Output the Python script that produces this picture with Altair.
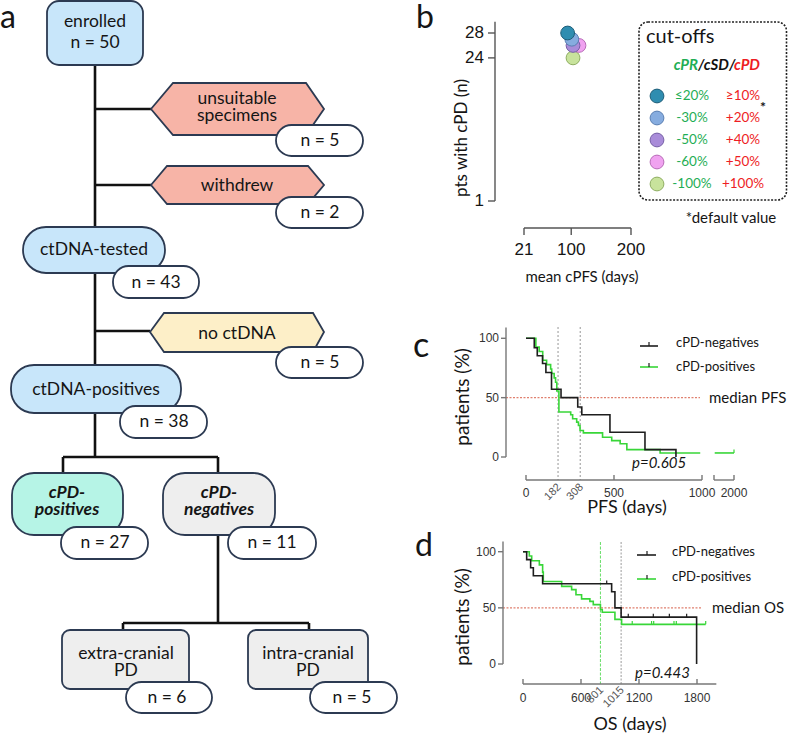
import altair as alt
import pandas as pd

LATO = "Lato"
ARIAL = "Liberation Sans"
NAVY = "#2c3a52"
KM_GREEN = "#38d638"
KM_BLACK = "#1e1e1e"
MED_RED = "#e0806f"
AXIS = "#777777"
TXT = "#151515"
PR_GREEN = "#1fae55"
PD_RED = "#ee1d24"

# ---------------- b: patients with cPD vs. mean cPFS per cut-off pair ----------------
cut_pr = ["≤20%", "-30%", "-50%", "-60%", "-100%"]
cut_pd = ["≥10%", "+20%", "+40%", "+50%", "+100%"]
mean_cpfs_days = [94, 101, 103, 113, 103]
pts_with_cpd = [28, 27, 26, 26, 24]
cut_fill = ["#2f8db0", "#86acdf", "#a98cd9", "#f0a2f0", "#c8e39c"]
cut_edge = ["#1d5d78", "#5a7fb2", "#7660a6", "#b86db8", "#8fae62"]
b_yticks = [1, 24, 28]
b_xticks = [21, 100, 200]

# ---------------- c: progression-free survival ----------------
pfs_neg_days = [0, 47, 64, 94, 113, 145, 199, 294, 317, 477, 676, 852]
pfs_neg_pct = [100, 92.1, 85.3, 78.8, 71.2, 57.1, 50.0, 42.1, 35.6, 20.8, 6.2, 0]
pfs_pos_days = [0, 56, 75, 95, 117, 140, 146, 160, 168, 175, 187, 254, 265, 288,
                298, 307, 326, 435, 487, 535, 573, 762]
pfs_pos_pct = [100, 92.6, 88.9, 81.5, 77.8, 74.1, 70.4, 66.7, 63.0, 55.6, 37.9, 35.6,
               32.2, 29.4, 26.6, 22.3, 20.3, 16.7, 13.8, 11.1, 6.2, 3.4]
pfs_pos_last_before_break = 990
pfs_pos_tail = [1890, 2000]
pfs_pos_censored = [2000]
pfs_medians = [182, 308]
pfs_xticks = [0, 500, 1000, 2000]

# ---------------- d: overall survival ----------------
os_neg_days = [0, 38, 79, 107, 203, 917, 951, 1015, 1796]
os_neg_pct = [100, 92.9, 85.7, 78.6, 71.4, 64.3, 50.0, 41.7, 0]
os_neg_censored = [866, 1089, 1348, 1514, 1693]
os_pos_days = [0, 65, 90, 169, 203, 210, 400, 503, 548, 606, 692, 727, 801, 820, 951, 1020]
os_pos_pct = [100, 96.2, 92.0, 88.3, 81.8, 73.5, 69.1, 66.2, 61.7, 58.0, 55.8, 52.9,
              48.5, 46.1, 39.7, 35.3]
os_pos_last = 1890
os_pos_censored = [1130, 1330, 1352, 1562, 1586, 1890]
os_medians = [801, 1015]
os_xticks = [0, 600, 1200, 1800]
pct_ticks = [0, 50, 100]


def level_at(day, days, pct):
    lvl = pct[0]
    for d, p in zip(days, pct):
        if d <= day:
            lvl = p
    return lvl


def km_frame(days, pct, end_day=None, grp="a"):
    rows = list(zip(days, pct))
    if end_day is not None:
        rows.append((end_day, pct[-1]))
    df = pd.DataFrame(rows, columns=["day", "pct"])
    df["grp"] = grp
    return df


def censor_frame(cens, days, pct):
    lv = [level_at(c, days, pct) for c in cens]
    return pd.DataFrame({"day": cens, "pct": lv, "top": [v + 3 for v in lv]})


def one():
    return pd.DataFrame({"k": [0]})


def text_at(s, x, y, size, font=LATO, color=TXT, weight="normal", style="normal",
            align="center", baseline="middle", angle=0):
    kw = dict(fontSize=size, font=font, color=color, fontWeight=weight,
              fontStyle=style, align=align, baseline=baseline)
    if angle:
        kw["angle"] = angle
    return alt.Chart(pd.DataFrame({"label": [s]})).mark_text(**kw).encode(
        x=alt.value(x), y=alt.value(y), text="label:N")


def seg(x1, y1, x2, y2, color, width=1.0, dash=None):
    kw = dict(color=color, strokeWidth=width)
    if dash:
        kw["strokeDash"] = dash
    return alt.Chart(one()).mark_rule(**kw).encode(
        x=alt.value(x1), y=alt.value(y1), x2=alt.value(x2), y2=alt.value(y2))


# ======================= a: flowchart =======================
fx = alt.Scale(domain=[0, 400], range=[0, 400], nice=False, zero=False)
fy = alt.Scale(domain=[0, 735], range=[0, 735], nice=False, zero=False)

BLUE, AQUA, GREY = "#c8e6fa", "#b6f4e6", "#eeeeee"
SALMON, YELLOW = "#f7b4a7", "#fdefc8"

connectors = pd.DataFrame([
    (95, 65, 95, 227), (95, 109, 151, 109), (95, 185, 151, 185),
    (95, 273, 95, 365), (95, 331, 150, 331), (95, 413, 95, 457),
    (63, 457, 218, 457), (63, 457, 63, 473), (218, 457, 218, 473),
    (218, 535, 218, 623), (123, 623, 309, 623), (123, 623, 123, 630),
    (309, 623, 309, 630)], columns=["x", "y", "x2", "y2"])

boxes = pd.DataFrame([
    ("enrolled", 47, 143, 1, 65, BLUE, "r12"),
    ("ctDNA-tested", 23, 165, 227, 273, BLUE, "stadium"),
    ("ctDNA-positives", 11, 181, 365, 413, BLUE, "stadium"),
    ("cPD-positives", 12, 123, 473, 535, AQUA, "tomb"),
    ("cPD-negatives", 163, 275, 473, 535, GREY, "tomb"),
    ("extra-cranial PD", 62, 189, 630, 689, GREY, "r8"),
    ("intra-cranial PD", 248, 368, 630, 689, GREY, "r8"),
], columns=["node", "x1", "x2", "y1", "y2", "fill", "kind"])

pills = pd.DataFrame([
    (276, 363, 125, 156), (276, 363, 197, 228), (113, 199, 266, 298),
    (276, 363, 347, 378), (120, 207, 406, 438), (61, 148, 527, 559),
    (228, 316, 527, 559), (126, 212, 682, 713), (310, 397, 682, 713)],
    columns=["x1", "x2", "y1", "y2"])

hex_rows = []
for name, pts, fill in [
    ("unsuitable", [(151, 109, 109), (173, 83, 135), (306, 83, 135), (324, 109, 109)], SALMON),
    ("withdrew", [(151, 185, 185), (167, 166, 204), (308, 166, 204), (324, 185, 185)], SALMON),
    ("no ctDNA", [(150, 332, 332), (164, 313, 352), (313, 313, 352), (324, 332, 332)], YELLOW),
]:
    for x, yt, yb in pts:
        hex_rows.append((name, x, yt, yb, fill))
hexes = pd.DataFrame(hex_rows, columns=["hex", "x", "yt", "yb", "fill"])

flow_text = pd.DataFrame([
    ("enrolled", 95, 22), ("n = 50", 95, 43),
    ("unsuitable", 237, 99), ("specimens", 237, 116), ("n = 5", 320, 141),
    ("withdrew", 237, 186), ("n = 2", 320, 213),
    ("ctDNA-tested", 94, 250), ("n = 43", 156, 283),
    ("no ctDNA", 237, 334), ("n = 5", 320, 363),
    ("ctDNA-positives", 96, 390), ("n = 38", 164, 422),
    ("n = 27", 105, 543), ("n = 11", 272, 543),
    ("extra-cranial", 126, 654), ("PD", 126, 671),
    ("intra-cranial", 308, 654), ("PD", 308, 671),
    ("n = 6", 167, 698), ("n = 5", 352, 698)], columns=["label", "x", "y"])
flow_bold = pd.DataFrame([
    ("cPD-", 67, 493), ("positives", 67, 510),
    ("cPD-", 219, 493), ("negatives", 219, 510)], columns=["label", "x", "y"])

FXe = lambda f: alt.X(f, scale=fx, axis=None)
FYe = lambda f: alt.Y(f, scale=fy, axis=None)


def box_layer(df, r):
    return alt.Chart(df).mark_rect(cornerRadius=r, stroke=NAVY, strokeWidth=1.8).encode(
        x=FXe("x1:Q"), x2="x2:Q", y=FYe("y1:Q"), y2="y2:Q",
        fill=alt.Fill("fill:N", scale=None))


flow = alt.layer(
    alt.Chart(connectors).mark_rule(color="#111111", strokeWidth=2.6).encode(
        x=FXe("x:Q"), y=FYe("y:Q"), x2="x2:Q", y2="y2:Q"),
    box_layer(boxes[boxes.kind == "r12"], 12),
    box_layer(boxes[boxes.kind == "stadium"], 23),
    box_layer(boxes[boxes.kind == "tomb"], 22),
    box_layer(boxes[boxes.kind == "r8"], 8),
    alt.Chart(hexes).mark_area(stroke=NAVY, strokeWidth=1.8, interpolate="linear").encode(
        x=FXe("x:Q"), y=alt.Y("yt:Q", scale=fy, axis=None, stack=False), y2="yb:Q",
        detail="hex:N", fill=alt.Fill("fill:N", scale=None)),
    alt.Chart(pills).mark_rect(cornerRadius=15.5, stroke=NAVY, strokeWidth=1.8, fill="white").encode(
        x=FXe("x1:Q"), x2="x2:Q", y=FYe("y1:Q"), y2="y2:Q"),
    alt.Chart(flow_text).mark_text(font=LATO, fontSize=17.5, color=TXT).encode(
        x=FXe("x:Q"), y=FYe("y:Q"), text="label:N"),
    alt.Chart(flow_bold).mark_text(font=LATO, fontSize=17.5, color=TXT, fontWeight="bold",
                                   fontStyle="italic").encode(
        x=FXe("x:Q"), y=FYe("y:Q"), text="label:N"),
)

# ======================= b =======================
bx = alt.Scale(domain=[21, 200], range=[524, 631], nice=False, zero=False)
by = alt.Scale(domain=[1, 28], range=[201, 33], nice=False, zero=False)
b_pts = pd.DataFrame({"cpfs": mean_cpfs_days, "n": pts_with_cpd, "fill": cut_fill,
                      "edge": cut_edge, "rank": list(range(len(cut_fill)))})
panel_b = alt.layer(
    alt.Chart(pd.DataFrame({"lo": [1], "hi": [29.8]})).mark_rule(color="#555555", strokeWidth=1.4).encode(
        x=alt.value(495), y=alt.Y("lo:Q", scale=by, axis=None), y2="hi:Q"),
    alt.Chart(pd.DataFrame({"n": b_yticks})).mark_rule(color="#555555", strokeWidth=1.4).encode(
        x=alt.value(488), x2=alt.value(495), y=alt.Y("n:Q", scale=by, axis=None)),
    alt.Chart(pd.DataFrame({"n": b_yticks})).mark_text(font=ARIAL, fontSize=17, align="right",
                                                       color=TXT).encode(
        x=alt.value(484), y=alt.Y("n:Q", scale=by, axis=None), text="n:Q"),
    alt.Chart(pd.DataFrame({"lo": [21], "hi": [200]})).mark_rule(color="#555555", strokeWidth=1.4).encode(
        x=alt.X("lo:Q", scale=bx, axis=None), x2="hi:Q", y=alt.value(228)),
    alt.Chart(pd.DataFrame({"d": b_xticks})).mark_rule(color="#555555", strokeWidth=1.4).encode(
        x=alt.X("d:Q", scale=bx, axis=None), y=alt.value(228), y2=alt.value(235)),
    alt.Chart(pd.DataFrame({"d": b_xticks})).mark_text(font=ARIAL, fontSize=17, color=TXT).encode(
        x=alt.X("d:Q", scale=bx, axis=None), y=alt.value(250), text="d:Q"),
    alt.Chart(b_pts).mark_circle(size=190, opacity=1, strokeWidth=1).encode(
        x=alt.X("cpfs:Q", scale=bx, axis=None), y=alt.Y("n:Q", scale=by, axis=None),
        fill=alt.Fill("fill:N", scale=None), stroke=alt.Stroke("edge:N", scale=None),
        order=alt.Order("rank:Q", sort="descending")),
)

legend_rows = pd.DataFrame({"pr": cut_pr, "pd": cut_pd, "fill": cut_fill, "edge": cut_edge,
                            "py": [96 + 22 * i for i in range(len(cut_pr))]})
b_legend = alt.layer(
    alt.Chart(one()).mark_rect(cornerRadius=9, fillOpacity=0, stroke="#222222", strokeWidth=1.6,
                               strokeDash=[2, 1.5]).encode(
        x=alt.value(639), x2=alt.value(786.5), y=alt.value(22), y2=alt.value(200)),
    alt.Chart(legend_rows).mark_circle(size=190, opacity=1, strokeWidth=1).encode(
        x=alt.value(657), y=alt.Y("py:Q", scale=None),
        fill=alt.Fill("fill:N", scale=None), stroke=alt.Stroke("edge:N", scale=None)),
    alt.Chart(legend_rows).mark_text(font=LATO, fontSize=13.5, color=PR_GREEN).encode(
        x=alt.value(692), y=alt.Y("py:Q", scale=None), text="pr:N"),
    alt.Chart(legend_rows).mark_text(font=LATO, fontSize=13.5, color=PD_RED).encode(
        x=alt.value(743), y=alt.Y("py:Q", scale=None), text="pd:N"),
)

# ======================= c =======================
cx = alt.Scale(domain=[0, 1000, 1886, 2000], range=[526, 702, 714, 734], nice=False, zero=False)
cy = alt.Scale(domain=[0, 100], range=[457, 338.3], nice=False, zero=False)
CX = lambda f: alt.X(f, scale=cx, axis=None)
CY = lambda f: alt.Y(f, scale=cy, axis=None)

pfs_pos_df = pd.concat([
    km_frame(pfs_pos_days, pfs_pos_pct, pfs_pos_last_before_break, "main"),
    km_frame(pfs_pos_tail, [pfs_pos_pct[-1]] * 2, None, "tail")])
pfs_neg_df = km_frame(pfs_neg_days, pfs_neg_pct, None, "main")
pfs_cens = censor_frame(pfs_pos_censored, pfs_pos_days, pfs_pos_pct)


def km_layers(pos_df, neg_df, pos_cens, neg_cens, X, Y):
    layers = [
        alt.Chart(pos_df).mark_line(interpolate="step-after", color=KM_GREEN, strokeWidth=1.6).encode(
            x=X("day:Q"), y=Y("pct:Q"), detail="grp:N"),
        alt.Chart(pos_cens).mark_rule(color=KM_GREEN, strokeWidth=1.2).encode(
            x=X("day:Q"), y=Y("pct:Q"), y2="top:Q"),
        alt.Chart(neg_df).mark_line(interpolate="step-after", color=KM_BLACK, strokeWidth=1.6).encode(
            x=X("day:Q"), y=Y("pct:Q"), detail="grp:N"),
    ]
    if neg_cens is not None:
        layers.append(alt.Chart(neg_cens).mark_rule(color=KM_BLACK, strokeWidth=1.2).encode(
            x=X("day:Q"), y=Y("pct:Q"), y2="top:Q"))
    return layers


def y_axis(xpos, Y, top):
    return [
        alt.Chart(pd.DataFrame({"lo": [0], "hi": [top]})).mark_rule(color=AXIS, strokeWidth=1.4).encode(
            x=alt.value(xpos), y=Y("lo:Q"), y2="hi:Q"),
        alt.Chart(pd.DataFrame({"p": pct_ticks})).mark_rule(color=AXIS, strokeWidth=1.4).encode(
            x=alt.value(xpos - 5), x2=alt.value(xpos), y=Y("p:Q")),
        alt.Chart(pd.DataFrame({"p": pct_ticks})).mark_text(font=ARIAL, fontSize=12, align="right",
                                                            color="#333333").encode(
            x=alt.value(xpos - 7), y=Y("p:Q"), text="p:Q"),
    ]


panel_c = alt.layer(
    alt.Chart(pd.DataFrame({"day": pfs_medians})).mark_rule(color="#8a8a8a", strokeWidth=0.9,
                                                            strokeDash=[2, 2]).encode(
        x=CX("day:Q"), y=alt.value(327), y2=alt.value(480)),
    alt.Chart(pd.DataFrame({"p": [50]})).mark_rule(color=MED_RED, strokeWidth=1.1,
                                                   strokeDash=[2, 1.5]).encode(
        x=alt.value(506), x2=alt.value(700), y=CY("p:Q")),
    *km_layers(pfs_pos_df, pfs_neg_df, pfs_cens, None, CX, CY),
    *y_axis(506, CY, 109),
    alt.Chart(pd.DataFrame({"lo": [0, 1886], "hi": [1000, 2000]})).mark_rule(
        color=AXIS, strokeWidth=1.4).encode(x=CX("lo:Q"), x2="hi:Q", y=alt.value(480)),
    alt.Chart(pd.DataFrame({"d": [0, 500, 1000, 1886, 2000]})).mark_rule(
        color=AXIS, strokeWidth=1.4).encode(x=CX("d:Q"), y=alt.value(475), y2=alt.value(480)),
    alt.Chart(pd.DataFrame({"d": pfs_xticks})).mark_text(font=ARIAL, fontSize=12,
                                                         color="#333333").encode(
        x=CX("d:Q"), y=alt.value(493), text="d:Q"),
    alt.Chart(pd.DataFrame({"d": pfs_medians})).mark_text(font=ARIAL, fontSize=11, color="#555555",
                                                          angle=315, align="right", dx=2).encode(
        x=CX("d:Q"), y=alt.value(487), text="d:Q"),
)

# ======================= d =======================
dxs = alt.Scale(domain=[0, 1800], range=[523, 697], nice=False, zero=False)
dys = alt.Scale(domain=[0, 100], range=[664, 551.7], nice=False, zero=False)
DX = lambda f: alt.X(f, scale=dxs, axis=None)
DY = lambda f: alt.Y(f, scale=dys, axis=None)

os_pos_df = km_frame(os_pos_days, os_pos_pct, os_pos_last, "main")
os_neg_df = km_frame(os_neg_days, os_neg_pct, None, "main")
os_pos_cens = censor_frame(os_pos_censored, os_pos_days, os_pos_pct)
os_neg_cens = censor_frame(os_neg_censored, os_neg_days, os_neg_pct)

panel_d = alt.layer(
    alt.Chart(pd.DataFrame({"day": [os_medians[0]]})).mark_rule(color="#66dd66", strokeWidth=1,
                                                                strokeDash=[3, 1.5]).encode(
        x=DX("day:Q"), y=alt.value(542), y2=alt.value(684)),
    alt.Chart(pd.DataFrame({"day": [os_medians[1]]})).mark_rule(color="#9a9a9a", strokeWidth=1,
                                                                strokeDash=[2, 1.5]).encode(
        x=DX("day:Q"), y=alt.value(542), y2=alt.value(684)),
    alt.Chart(pd.DataFrame({"p": [50]})).mark_rule(color=MED_RED, strokeWidth=1.1,
                                                   strokeDash=[2, 1.5]).encode(
        x=alt.value(503), x2=alt.value(702), y=DY("p:Q")),
    *km_layers(os_pos_df, os_neg_df, os_pos_cens, os_neg_cens, DX, DY),
    *y_axis(503, DY, 109),
    alt.Chart(pd.DataFrame({"lo": [0], "hi": [2000]})).mark_rule(color=AXIS, strokeWidth=1.4).encode(
        x=DX("lo:Q"), x2="hi:Q", y=alt.value(684)),
    alt.Chart(pd.DataFrame({"d": os_xticks})).mark_rule(color=AXIS, strokeWidth=1.4).encode(
        x=DX("d:Q"), y=alt.value(679), y2=alt.value(684)),
    alt.Chart(pd.DataFrame({"d": os_xticks})).mark_text(font=ARIAL, fontSize=12,
                                                        color="#333333").encode(
        x=DX("d:Q"), y=alt.value(698), text="d:Q"),
    alt.Chart(pd.DataFrame({"d": os_medians})).mark_text(font=ARIAL, fontSize=11, color="#555555",
                                                         angle=315, align="right", dx=2).encode(
        x=DX("d:Q"), y=alt.value(690), text="d:Q"),
)

# ======================= labels and keys =======================
annotations = [
    text_at("a", 0, 28, 32, align="left", baseline="alphabetic"),
    text_at("b", 416, 28, 32, align="left", baseline="alphabetic"),
    text_at("c", 413, 357, 34, align="left", baseline="alphabetic"),
    text_at("d", 415, 556, 32, align="left", baseline="alphabetic"),
    # b
    text_at("pts with cPD (n)", 462, 138, 17, angle=270),
    text_at("mean cPFS (days)", 582, 277, 15),
    text_at("cut-offs", 646, 43, 20, align="left", baseline="alphabetic"),
    text_at("cPR", 698, 70, 15, color=PR_GREEN, weight="bold", style="italic", align="right",
            baseline="alphabetic"),
    text_at("/cSD/", 698, 70, 15, color="#111111", weight="bold", style="italic", align="left",
            baseline="alphabetic"),
    text_at("cPD", 734, 70, 15, color=PD_RED, weight="bold", style="italic", align="left",
            baseline="alphabetic"),
    text_at("*", 763, 108, 14, weight="bold"),
    text_at("*default value", 731, 218, 15),
    # c
    text_at("patients (%)", 463, 397, 19, angle=270),
    text_at("PFS (days)", 627, 508, 18),
    text_at("median PFS", 709, 398, 15, align="left"),
    text_at("p=0.605", 632, 463, 15, style="italic", align="left"),
    seg(640, 346, 658, 346, KM_BLACK, 1.6), seg(649, 342, 649, 346, KM_BLACK, 1.2),
    text_at("cPD-negatives", 676, 343, 13, align="left"),
    seg(640, 367, 658, 367, KM_GREEN, 1.6), seg(649, 363, 649, 367, KM_BLACK, 1.2),
    text_at("cPD-positives", 676, 367, 13, align="left"),
    # d
    text_at("patients (%)", 463, 617, 19, angle=270),
    text_at("OS (days)", 630, 725, 18),
    text_at("median OS", 712, 608, 15, align="left"),
    text_at("p=0.443", 635, 673, 15, style="italic", align="left"),
    seg(637, 555, 656, 555, KM_BLACK, 1.6), seg(647, 551, 647, 555, KM_BLACK, 1.2),
    text_at("cPD-negatives", 672, 552, 13, align="left"),
    seg(637, 579, 656, 579, KM_GREEN, 1.6), seg(647, 575, 647, 579, KM_BLACK, 1.2),
    text_at("cPD-positives", 672, 577, 13, align="left"),
]

chart = alt.layer(flow, panel_b, b_legend, panel_c, panel_d, *annotations).resolve_scale(
    x="independent", y="independent"
).properties(
    width=788, height=735, padding=0, autosize=alt.AutoSizeParams(type="none"),
    background="white"
).configure_view(strokeWidth=0)

chart.save("out.html", embed_options={"renderer": "svg", "actions": False})
